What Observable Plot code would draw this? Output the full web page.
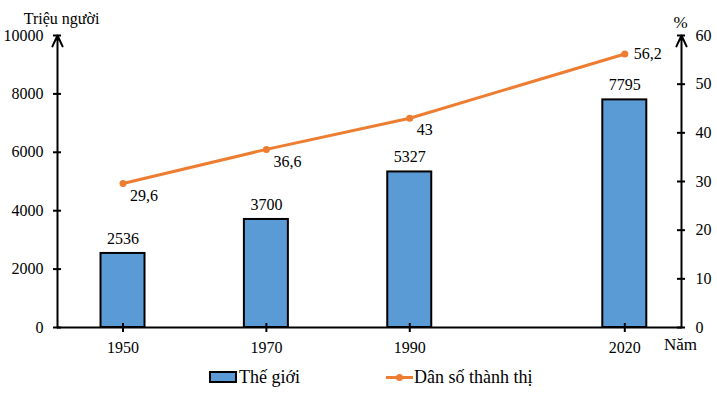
<!DOCTYPE html>
<html>
<head>
<meta charset="utf-8">
<script src="https://cdn.jsdelivr.net/npm/d3@7"></script>
<script src="https://cdn.jsdelivr.net/npm/@observablehq/plot@0.6"></script>
<style>
  html, body { margin: 0; padding: 0; background: white; }
  #wrap { position: relative; width: 717px; height: 393px; font-family: "Liberation Serif", serif; font-size: 18px; color: black; }
  #wrap svg text { font-family: "Liberation Serif", serif; }
  #legend { position: absolute; left: 0; top: 366px; width: 717px; height: 22px; }
  .item { position: absolute; top: 0; display: flex; align-items: center; height: 22px; white-space: nowrap; }
  .bar-sw { width: 24px; height: 8px; background: #5B9BD5; border: 2px solid black; margin-right: 2px; }
  .line-sw { position: relative; width: 27px; height: 3px; background: #ED7D31; margin-right: 1px; }
  .line-sw::after { content: ""; position: absolute; left: 10px; top: -2px; width: 7px; height: 7px; border-radius: 50%; background: #ED7D31; }
</style>
</head>
<body>
<div id="wrap"></div>
<script>
// ---- data ----
const years = [1950, 1970, 1990, 2020];
const population = [2536, 3700, 5327, 7795];        // Thế giới (triệu người)
const urbanPct = [29.6, 36.6, 43, 56.2];              // Dân số thành thị (%)
const popLabels = ["2536", "3700", "5327", "7795"];
const pctLabels = ["29,6", "36,6", "43", "56,2"];
const leftTicks = [0, 2000, 4000, 6000, 8000, 10000];
const rightTicks = [0, 10, 20, 30, 40, 50, 60];
const seriesNames = ["Thế giới", "Dân số thành thị"];
const leftTitle = "Triệu người";
const rightTitle = "%";
const xTitle = "Năm";

const data = years.map((year, i) => ({year, pop: population[i], pct: urbanPct[i], popLabel: popLabels[i], pctLabel: pctLabels[i]}));

const yMax = 10000, pctMax = 60;
const pctToY = p => p * yMax / pctMax;
const xDomain = [1940.86, 2027.91];
const xL = () => xDomain[0], xR = () => xDomain[1];

const font = "Liberation Serif, serif";
const axisColor = "black";

const chart = Plot.plot({
  width: 717,
  height: 393,
  marginTop: 35,
  marginBottom: 66,
  marginLeft: 57,
  marginRight: 36,
  style: {fontFamily: font, fontSize: "16px", color: "black", background: "white"},
  x: {type: "linear", domain: xDomain, axis: null},
  y: {domain: [0, yMax], axis: null},
  marks: [
    // bars
    Plot.rectY(data, {x1: d => d.year, x2: d => d.year, y1: () => 0, y2: d => d.pop,
      insetLeft: -22, insetRight: -22, fill: "#5B9BD5", stroke: "black", strokeWidth: 2}),
    // x axis line
    Plot.ruleY([0], {stroke: axisColor, strokeWidth: 2}),
    // y axes with arrows
    Plot.arrow([0], {x1: xL, x2: xL, y1: () => 0, y2: () => yMax, stroke: axisColor, strokeWidth: 2, headLength: 9, headAngle: 50}),
    Plot.arrow([0], {x1: xR, x2: xR, y1: () => 0, y2: () => yMax, stroke: axisColor, strokeWidth: 2, headLength: 9, headAngle: 50}),
    // left ticks
    Plot.ruleY(leftTicks, {y: d => d, x1: xL, x2: xL, insetLeft: -4, insetRight: -4, stroke: axisColor, strokeWidth: 2}),
    Plot.text(leftTicks, {y: d => d, x: xL, text: d => String(d), textAnchor: "end", dx: -14, fontSize: 16, fontFamily: font}),
    // right ticks
    Plot.ruleY(rightTicks, {y: d => pctToY(d), x1: xR, x2: xR, insetLeft: -4, insetRight: -4, stroke: axisColor, strokeWidth: 2}),
    Plot.text(rightTicks, {y: d => pctToY(d), x: xR, text: d => String(d), textAnchor: "start", dx: 14, fontSize: 16, fontFamily: font}),
    // x ticks
    Plot.ruleX(years, {x: d => d, y1: () => 0, y2: () => 0, insetTop: -4, insetBottom: -5, stroke: axisColor, strokeWidth: 2}),
    Plot.text(years, {x: d => d, y: () => 0, text: d => String(d), dy: 20, fontSize: 16, fontFamily: font}),
    // bar labels
    Plot.text(data, {x: "year", y: "pop", text: "popLabel", dy: -15, fontSize: 16, fontFamily: font}),
    // line
    Plot.line(data, {x: "year", y: d => pctToY(d.pct), stroke: "#ED7D31", strokeWidth: 3}),
    Plot.dot(data, {x: "year", y: d => pctToY(d.pct), r: 3.5, fill: "#ED7D31", stroke: "none"}),
    Plot.text(data.slice(0, 3), {x: "year", y: d => pctToY(d.pct), text: "pctLabel", textAnchor: "start", dx: 7, dy: 12, fontSize: 16, fontFamily: font}),
    Plot.text(data.slice(3), {x: "year", y: d => pctToY(d.pct), text: "pctLabel", textAnchor: "start", dx: 9, dy: 0, fontSize: 16, fontFamily: font}),
    // axis titles
    Plot.text([leftTitle], {frameAnchor: "top-left", text: d => d, textAnchor: "middle", dx: 4, dy: -23, fontSize: 16, fontFamily: font}),
    Plot.text([rightTitle], {frameAnchor: "top-right", text: d => d, textAnchor: "middle", dx: -1, dy: -20, fontSize: 17, fontFamily: font}),
    Plot.text([xTitle], {frameAnchor: "bottom-right", text: d => d, textAnchor: "middle", dx: -1, dy: 22, fontSize: 17, fontFamily: font})
  ]
});

const wrap = document.getElementById("wrap");
wrap.appendChild(chart);

const legend = document.createElement("div");
legend.id = "legend";
legend.innerHTML =
  `<div class="item" style="left:209px"><span class="bar-sw"></span><span>${seriesNames[0]}</span></div>` +
  `<div class="item" style="left:386px"><span class="line-sw"></span><span>${seriesNames[1]}</span></div>`;
wrap.appendChild(legend);
</script>
</body>
</html>
